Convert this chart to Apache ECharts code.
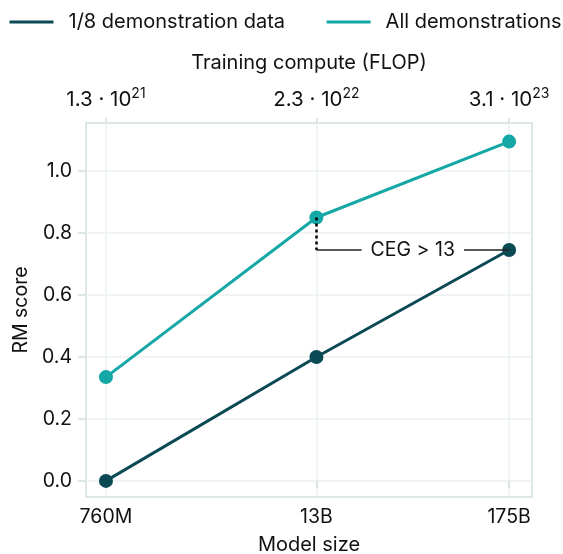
<!DOCTYPE html>
<html>
<head>
<meta charset="utf-8">
<script src="https://cdn.jsdelivr.net/npm/echarts@6/dist/echarts.min.js"></script>
<style>
html,body{margin:0;padding:0;background:#fff;}
#main{width:563px;height:554px;}
</style>
</head>
<body>
<div id="main"></div>
<script>
// model sizes (parameters) and their labels
var modelParams = [0.76e9, 13e9, 175e9];
var modelLabels = ['760M', '13B', '175B'];
// training compute labels (mantissa, exponent)
var flopMantissa = ['1.3', '2.3', '3.1'];
var flopExponent = ['21', '22', '23'];
// RM score per model size
var eighthData = [0.0, 0.40, 0.745];
var allData = [0.335, 0.85, 1.095];
var yTicks = [0, 0.2, 0.4, 0.6, 0.8, 1.0];
var annotText = 'CEG > 13';

var darkTeal = '#0b4a55';
var lightTeal = '#15a7a6';
var fontFam = 'Inter, "Noto Sans", sans-serif';
var frameColor = '#d3dfdf';

var xPos = modelParams.map(function (v) { return Math.log10(v); });
var xMin = 8.764, xMax = 11.377;

function labelIndex(v) {
    for (var i = 0; i < xPos.length; i++) {
        if (Math.abs(xPos[i] - v) < 1e-6) return i;
    }
    return -1;
}

var chart = echarts.init(document.getElementById('main'));
var option = {
    animation: false,
    textStyle: {fontFamily: fontFam},
    legend: {
        left: 8,
        top: 12,
        padding: 0,
        width: 620,
        itemWidth: 44,
        itemHeight: 14,
        itemGap: 40,
        lineStyle: {width: 3},
        itemStyle: {opacity: 0},
        formatter: '{t|{name}}',
        textStyle: {
            fontFamily: fontFam,
            rich: {t: {fontSize: 20, color: '#111', padding: [0, 0, 0, 10], fontFamily: fontFam}}
        },
        data: ['1/8 demonstration data', 'All demonstrations']
    },
    grid: {
        left: 86, right: 31, top: 123, bottom: 57,
        outerBoundsMode: 'none',
        show: true, borderColor: frameColor, borderWidth: 1.5
    },
    xAxis: [{
        type: 'value', position: 'bottom', min: xMin, max: xMax,
        name: 'Model size', nameLocation: 'middle', nameGap: 38,
        nameTextStyle: {fontSize: 20, color: '#111'},
        axisLine: {show: false},
        axisTick: {show: true, length: 7, customValues: xPos, lineStyle: {color: frameColor, width: 1.5}},
        axisLabel: {
            customValues: xPos, fontSize: 19.5, color: '#111', margin: 10,
            formatter: function (v) { return modelLabels[labelIndex(v)]; }
        },
        splitLine: {show: true, lineStyle: {color: '#ebf0f0', width: 1.5}}
    }, {
        type: 'value', position: 'top', min: xMin, max: xMax,
        name: 'Training compute (FLOP)', nameLocation: 'middle', nameGap: 50,
        nameTextStyle: {fontSize: 20, color: '#111'},
        axisLine: {show: false},
        axisTick: {show: true, length: 5, customValues: xPos, lineStyle: {color: frameColor, width: 1.5}},
        axisLabel: {
            customValues: xPos, margin: 10,
            formatter: function (v) {
                var i = labelIndex(v);
                return '{b|' + flopMantissa[i] + ' \u00b7 10}{s|' + flopExponent[i] + '}';
            },
            rich: {
                b: {fontSize: 20.5, color: '#111', lineHeight: 26, fontFamily: fontFam},
                s: {fontSize: 14, color: '#111', lineHeight: 15, verticalAlign: 'top', fontFamily: fontFam}
            }
        },
        splitLine: {show: false}
    }],
    yAxis: {
        type: 'value', min: -0.052, max: 1.155,
        name: 'RM score', nameLocation: 'middle', nameGap: 43,
        nameTextStyle: {fontSize: 19.5, color: '#111'},
        axisLine: {show: false},
        axisTick: {show: true, length: 8, customValues: yTicks, lineStyle: {color: frameColor, width: 1.5}},
        axisLabel: {
            customValues: yTicks, fontSize: 19.5, color: '#111', margin: 14,
            formatter: function (v) { return v.toFixed(1); }
        },
        splitLine: {show: true, lineStyle: {color: '#ebf0f0', width: 1.5}}
    },
    series: [{
        name: '1/8 demonstration data',
        type: 'line',
        data: xPos.map(function (x, i) { return [x, eighthData[i]]; }),
        symbol: 'circle', symbolSize: 14,
        lineStyle: {color: darkTeal, width: 3},
        itemStyle: {color: darkTeal},
        z: 3,
        markLine: {
            silent: true, symbol: 'none', label: {show: false},
            data: [
                [{coord: [xPos[1], allData[1]], lineStyle: {type: [3, 3], width: 2.5, color: '#000'}},
                 {coord: [xPos[1], eighthData[2]]}],
                [{coord: [xPos[1], eighthData[2]], lineStyle: {type: 'solid', width: 1.5, color: '#222'}},
                 {coord: [xPos[2], eighthData[2]]}]
            ]
        },
        markPoint: {
            silent: true, symbol: 'rect', symbolSize: 1,
            itemStyle: {color: 'rgba(0,0,0,0)'},
            label: {
                show: true, position: 'inside', formatter: annotText, fontSize: 19.5, color: '#111',
                backgroundColor: '#fff', padding: [2, 9, 2, 9], fontFamily: fontFam
            },
            data: [{coord: [(xPos[1] + xPos[2]) / 2, eighthData[2]]}]
        }
    }, {
        name: 'All demonstrations',
        type: 'line',
        data: xPos.map(function (x, i) { return [x, allData[i]]; }),
        symbol: 'circle', symbolSize: 14,
        lineStyle: {color: lightTeal, width: 3},
        itemStyle: {color: lightTeal},
        z: 4
    }]
};
chart.setOption(option);
</script>
</body>
</html>
